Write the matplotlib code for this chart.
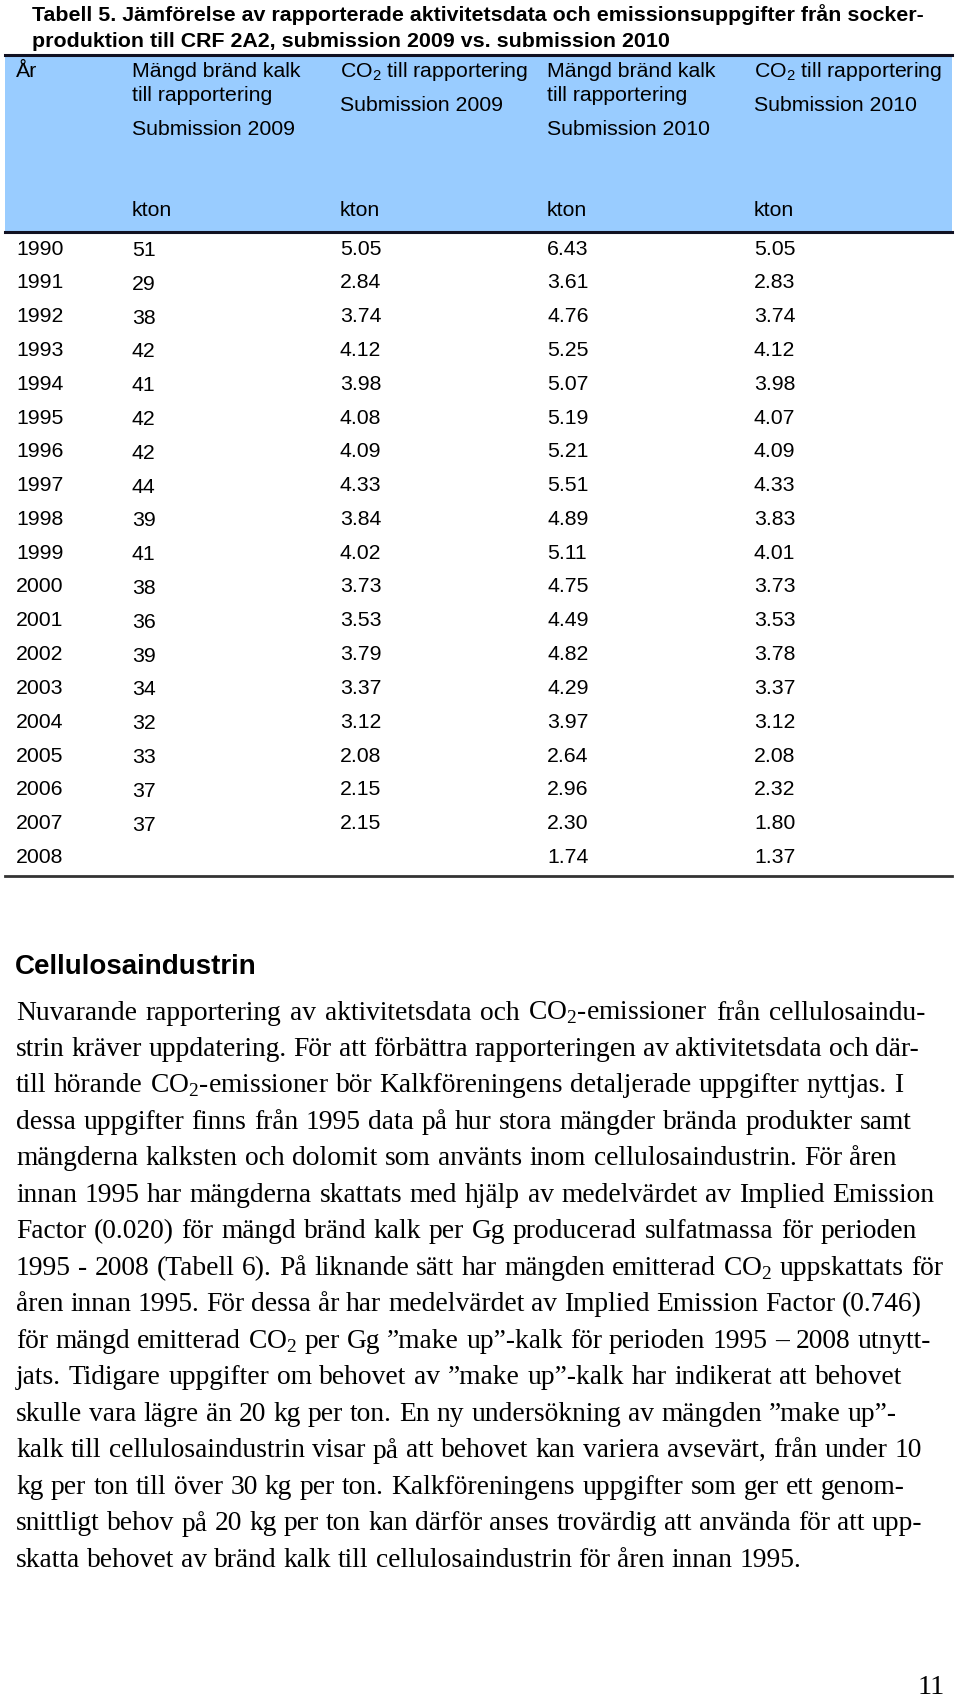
import matplotlib
matplotlib.use("Agg")
import matplotlib.pyplot as plt
from matplotlib.patches import Rectangle

plt.rcParams['mathtext.fontset'] = 'custom'
plt.rcParams['mathtext.rm'] = 'Liberation Serif'
plt.rcParams['mathtext.sf'] = 'Liberation Sans'

# table data
years = [1990, 1991, 1992, 1993, 1994, 1995, 1996, 1997, 1998, 1999,
         2000, 2001, 2002, 2003, 2004, 2005, 2006, 2007, 2008]
kalk_2009 = ['51', '29', '38', '42', '41', '42', '42', '44', '39', '41',
             '38', '36', '39', '34', '32', '33', '37', '37', '']
co2_2009 = ['5.05', '2.84', '3.74', '4.12', '3.98', '4.08', '4.09', '4.33', '3.84', '4.02',
            '3.73', '3.53', '3.79', '3.37', '3.12', '2.08', '2.15', '2.15', '']
kalk_2010 = ['6.43', '3.61', '4.76', '5.25', '5.07', '5.19', '5.21', '5.51', '4.89', '5.11',
             '4.75', '4.49', '4.82', '4.29', '3.97', '2.64', '2.96', '2.30', '1.74']
co2_2010 = ['5.05', '2.83', '3.74', '4.12', '3.98', '4.07', '4.09', '4.33', '3.83', '4.01',
            '3.73', '3.53', '3.78', '3.37', '3.12', '2.08', '2.32', '1.80', '1.37']

title_lines = ['Tabell 5. Jämförelse av rapporterade aktivitetsdata och emissionsuppgifter från socker-',
               'produktion till CRF 2A2, submission 2009 vs. submission 2010']

co2 = 'CO$_\\mathsf{2}$'
headers = [['År'],
           ['Mängd bränd kalk', 'till rapportering', 'Submission 2009'],
           [co2 + ' till rapportering', 'Submission 2009'],
           ['Mängd bränd kalk', 'till rapportering', 'Submission 2010'],
           [co2 + ' till rapportering', 'Submission 2010']]
units = ['', 'kton', 'kton', 'kton', 'kton']

heading = 'Cellulosaindustrin'
body = [
    'Nuvarande rapportering av aktivitetsdata och CO$_2$-emissioner från cellulosaindu-',
    'strin kräver uppdatering. För att förbättra rapporteringen av aktivitetsdata och där-',
    'till hörande CO$_2$-emissioner bör Kalkföreningens detaljerade uppgifter nyttjas. I',
    'dessa uppgifter finns från 1995 data på hur stora mängder brända produkter samt',
    'mängderna kalksten och dolomit som använts inom cellulosaindustrin. För åren',
    'innan 1995 har mängderna skattats med hjälp av medelvärdet av Implied Emission',
    'Factor (0.020) för mängd bränd kalk per Gg producerad sulfatmassa för perioden',
    '1995 - 2008 (Tabell 6). På liknande sätt har mängden emitterad CO$_2$ uppskattats för',
    'åren innan 1995. För dessa år har medelvärdet av Implied Emission Factor (0.746)',
    'för mängd emitterad CO$_2$ per Gg ”make up”-kalk för perioden 1995 – 2008 utnytt-',
    'jats. Tidigare uppgifter om behovet av ”make up”-kalk har indikerat att behovet',
    'skulle vara lägre än 20 kg per ton. En ny undersökning av mängden ”make up”-',
    'kalk till cellulosaindustrin visar på att behovet kan variera avsevärt, från under 10',
    'kg per ton till över 30 kg per ton. Kalkföreningens uppgifter som ger ett genom-',
    'snittligt behov på 20 kg per ton kan därför anses trovärdig att använda för att upp-',
    'skatta behovet av bränd kalk till cellulosaindustrin för åren innan 1995.',
]
# right edge of each body line in the page (last line is not stretched)
line_ends = [925, 919, 903, 912, 897, 934, 917, 943, 922, 931, 902, 897, 922, 905, 922, None]

fig = plt.figure(figsize=(9.6, 17), dpi=100)
ax = fig.add_axes([0, 0, 1, 1])
ax.set_xlim(0, 960)
ax.set_ylim(1700, 0)
ax.axis('off')
renderer = fig.canvas.get_renderer()

sans = 'Liberation Sans'
serif = 'Liberation Serif'

# title
for i, line in enumerate(title_lines):
    ax.text(32, 15 + i * 26, line, family=sans, weight='bold', fontsize=15.4,
            va='center', ha='left')

# header block
ax.add_patch(Rectangle((5, 55), 947, 176, facecolor='#99ccff', edgecolor='none'))
ax.plot([5, 952], [55, 55], color='#111122', lw=2.2)
ax.plot([5, 952], [231.5, 231.5], color='#111122', lw=2.2)

col_x = [16, 132, 340, 547, 754]
header_y = [[71], [71, 95, 129], [71, 105], [71, 95, 129], [71, 105]]
for cx, hdr, hy, u in zip(col_x, headers, header_y, units):
    for s, y in zip(hdr, hy):
        ax.text(cx, y, s, family=sans, fontsize=15.3, va='center', ha='left')
    if u:
        ax.text(cx, 210, u, family=sans, fontsize=15.3, va='center', ha='left')

# rows
row0, step = 249, 33.8
for i, yr in enumerate(years):
    y = row0 + i * step
    vals = [str(yr), kalk_2009[i], co2_2009[i], kalk_2010[i], co2_2010[i]]
    for j, (cx, v) in enumerate(zip(col_x, vals)):
        ax.text(cx, y + (1.5 if j == 1 else 0), v, family=sans, fontsize=15.3,
                va='center', ha='left')

ax.plot([5, 952], [876, 876], color='#333333', lw=2)

# section text
ax.text(15, 967, heading, family=sans, weight='bold', fontsize=20, va='center', ha='left')

body_fs = 19.8
x0 = 16
sp = ax.text(0, 0, 'a a', family=serif, fontsize=body_fs)
sp_w = sp.get_window_extent(renderer).width
sp.set_text('aa')
sp_w -= sp.get_window_extent(renderer).width
sp.remove()

for i, (line, end) in enumerate(zip(body, line_ends)):
    y = 1013 + i * 36.47
    words = line.split(' ')
    items = [ax.text(0, y, w, family=serif, fontsize=body_fs, va='center', ha='left')
             for w in words]
    widths = [t.get_window_extent(renderer).width for t in items]
    if end is None or len(items) < 2:
        gap = sp_w
    else:
        gap = max((end - x0 - sum(widths)) / (len(items) - 1), 0.6 * sp_w)
    x = x0
    for t, w in zip(items, widths):
        t.set_x(x)
        x += w + gap

ax.text(931, 1687, '11', family=serif, fontsize=20.5, va='center', ha='center')

fig.savefig('out.png', dpi=100)
